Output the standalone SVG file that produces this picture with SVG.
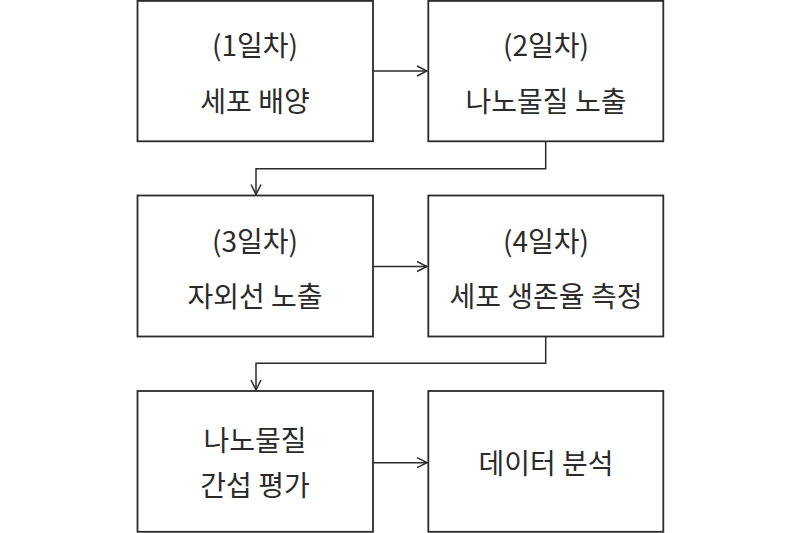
<svg xmlns="http://www.w3.org/2000/svg" width="800" height="533" viewBox="0 0 800 533">
<defs>
<style>
.box{fill:#fff;stroke:#2b2b2b;stroke-width:1.8}
.t{font-family:"Malgun Gothic","Noto Sans CJK KR",sans-serif;font-size:28px;fill:#2b2b2b;text-anchor:middle;dominant-baseline:central}
.c{fill:none;stroke:#2b2b2b;stroke-width:1.5}
</style>
<marker id="ah" viewBox="0 0 12 12" refX="11" refY="6" markerWidth="12" markerHeight="12" markerUnits="userSpaceOnUse" orient="auto">
<path d="M1,1 L11,6 L1,11" fill="none" stroke="#2b2b2b" stroke-width="1.5"/>
</marker>
</defs>
<rect width="800" height="533" fill="#fff"/>
<g id="n1"><rect class="box" x="137.5" y="0.9" width="235.5" height="140.4"/><text class="t" x="255" y="44">(1일차)</text><text class="t" x="255" y="100">세포 배양</text></g>
<g id="n2"><rect class="box" x="428.3" y="0.9" width="235" height="140.4"/><text class="t" x="546" y="44">(2일차)</text><text class="t" x="546" y="100">나노물질 노출</text></g>
<g id="n3"><rect class="box" x="137.5" y="195.5" width="235.5" height="141"/><text class="t" x="255" y="240">(3일차)</text><text class="t" x="255" y="295">자외선 노출</text></g>
<g id="n4"><rect class="box" x="428.3" y="195.5" width="235" height="141"/><text class="t" x="546" y="240">(4일차)</text><text class="t" x="546" y="295">세포 생존율 측정</text></g>
<g id="n5"><rect class="box" x="137.5" y="391" width="235.5" height="140.8"/><text class="t" x="255" y="439">나노물질</text><text class="t" x="255" y="484">간섭 평가</text></g>
<g id="n6"><rect class="box" x="428.3" y="391" width="235" height="140.8"/><text class="t" x="546" y="462">데이터 분석</text></g>
<g id="connectors">
<path class="c" d="M373,71 H427" marker-end="url(#ah)"/>
<path class="c" d="M545.7,141.3 V168.7 H256 V194.5" marker-end="url(#ah)"/>
<path class="c" d="M373,266.5 H427" marker-end="url(#ah)"/>
<path class="c" d="M545.7,336.5 V363.3 H256 V390" marker-end="url(#ah)"/>
<path class="c" d="M373,462.7 H427" marker-end="url(#ah)"/>
</g>
</svg>
